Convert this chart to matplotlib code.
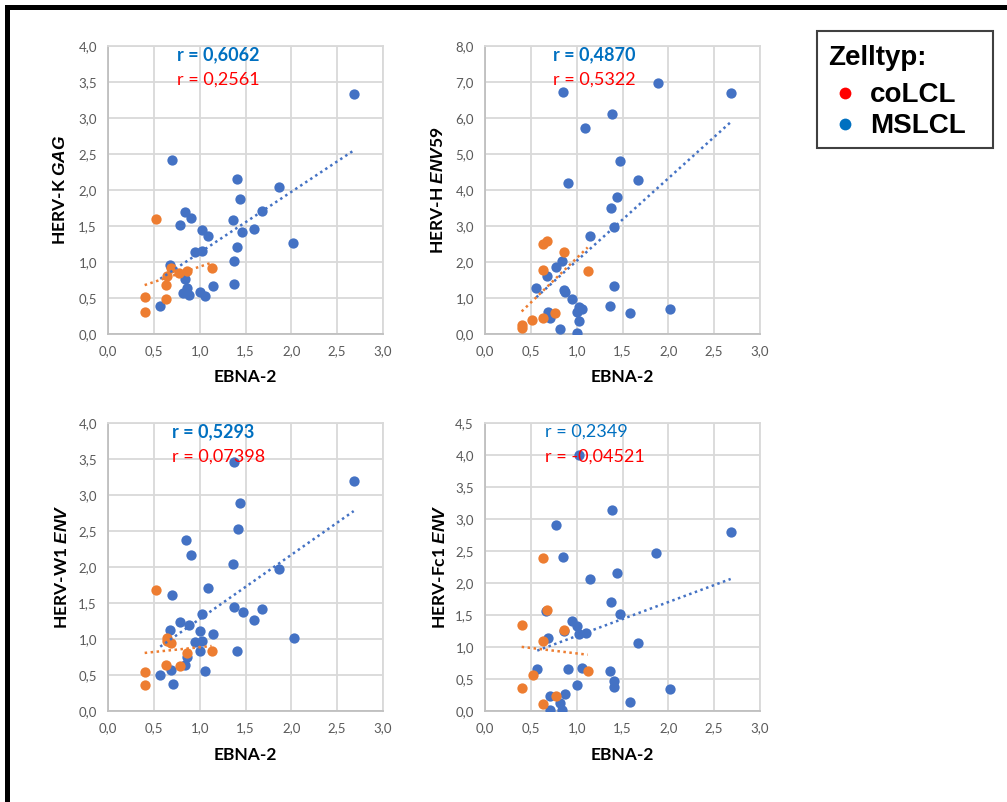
import numpy as np
import matplotlib
matplotlib.use("Agg")
import matplotlib.pyplot as plt
from matplotlib.patches import Rectangle
from matplotlib.lines import Line2D
from matplotlib.ticker import FuncFormatter

plt.rcParams['font.family'] = ['Lato', 'DejaVu Sans']
plt.rcParams['mathtext.fontset'] = 'custom'
plt.rcParams['mathtext.it'] = 'Liberation Sans:italic:bold'
plt.rcParams['mathtext.rm'] = 'Lato:bold'
plt.rcParams['mathtext.bf'] = 'Lato:bold'

# ---------------- data (EBNA-2 on x) ----------------
# HERV-K GAG
gag_ms_x = [2.68, 0.70, 1.41, 1.44, 1.87, 1.68, 0.84, 0.90, 0.78, 1.36, 1.02, 1.09, 1.46, 1.59,
            2.02, 1.41, 0.95, 1.03, 1.38, 0.68, 0.84, 0.86, 0.82, 0.88, 1.00, 1.06, 1.15, 1.38, 0.57]
gag_ms_y = [3.33, 2.41, 2.15, 1.88, 2.04, 1.71, 1.69, 1.61, 1.51, 1.58, 1.45, 1.36, 1.41, 1.46,
            1.26, 1.21, 1.14, 1.15, 1.02, 0.96, 0.76, 0.64, 0.57, 0.54, 0.58, 0.53, 0.66, 0.70, 0.39]
gag_co_x = [0.52, 0.69, 0.64, 0.77, 0.86, 1.13, 0.63, 0.63, 0.40, 0.40]
gag_co_y = [1.60, 0.91, 0.81, 0.85, 0.88, 0.91, 0.68, 0.48, 0.51, 0.30]

# HERV-H ENV59
env59_ms_x = [0.85, 1.89, 2.68, 1.38, 1.09, 1.47, 1.67, 0.90, 1.44, 1.37, 1.41, 1.15, 0.84, 0.77,
              0.68, 0.56, 0.86, 0.87, 0.95, 1.41, 1.36, 1.03, 1.06, 1.00, 0.69, 0.71, 1.02, 1.58,
              2.02, 0.82, 1.00]
env59_ms_y = [6.71, 6.98, 6.69, 6.10, 5.71, 4.81, 4.27, 4.20, 3.81, 3.50, 2.98, 2.72, 2.03, 1.85,
              1.62, 1.28, 1.23, 1.16, 0.97, 1.32, 0.78, 0.76, 0.69, 0.62, 0.60, 0.44, 0.37, 0.57,
              0.69, 0.13, 0.04]
env59_co_x = [0.63, 0.68, 0.86, 0.63, 1.12, 0.76, 0.63, 0.51, 0.40, 0.40]
env59_co_y = [2.50, 2.59, 2.29, 1.78, 1.76, 0.57, 0.44, 0.38, 0.26, 0.16]

# HERV-W1 ENV
w1_ms_x = [2.68, 1.38, 1.44, 1.42, 0.85, 0.90, 1.36, 1.87, 1.09, 0.70, 1.38, 1.68, 1.47, 1.03,
           1.59, 0.78, 0.88, 0.68, 1.00, 1.15, 2.03, 0.95, 1.03, 1.00, 1.41, 0.86, 0.84, 0.69,
           1.06, 0.57, 0.71]
w1_ms_y = [3.19, 3.46, 2.89, 2.53, 2.37, 2.16, 2.04, 1.97, 1.71, 1.61, 1.44, 1.41, 1.37, 1.35,
           1.27, 1.24, 1.19, 1.12, 1.11, 1.07, 1.01, 0.96, 0.97, 0.83, 0.83, 0.75, 0.64, 0.57,
           0.56, 0.50, 0.37]
w1_co_x = [0.52, 0.64, 0.64, 0.69, 0.86, 1.13, 0.63, 0.78, 0.40, 0.40]
w1_co_y = [1.68, 1.01, 0.97, 0.94, 0.81, 0.84, 0.64, 0.63, 0.54, 0.36]

# HERV-Fc1 ENV
fc1_ms_x = [1.03, 1.38, 0.77, 2.68, 0.85, 1.87, 1.44, 1.15, 1.37, 1.47, 0.67, 0.95, 1.00, 1.03,
            1.10, 0.86, 0.69, 1.67, 0.57, 0.90, 1.06, 1.36, 1.41, 1.41, 1.00, 2.02, 0.71, 0.87,
            0.82, 1.58, 0.71, 0.84]
fc1_ms_y = [4.00, 3.14, 2.90, 2.79, 2.41, 2.47, 2.15, 2.07, 1.71, 1.51, 1.56, 1.40, 1.33, 1.21,
            1.22, 1.25, 1.14, 1.06, 0.65, 0.66, 0.67, 0.62, 0.47, 0.37, 0.40, 0.34, 0.23, 0.26,
            0.13, 0.14, 0.01, 0.01]
fc1_co_x = [0.63, 0.68, 0.40, 0.86, 0.63, 1.12, 0.52, 0.40, 0.77, 0.63]
fc1_co_y = [2.39, 1.58, 1.35, 1.27, 1.09, 0.62, 0.56, 0.36, 0.24, 0.11]

panel_ylabels = ["HERV-K $\\mathit{GAG}$", "HERV-H $\\mathit{ENV}$59",
                 "HERV-W1 $\\mathit{ENV}$", "HERV-Fc1 $\\mathit{ENV}$"]
panel_ymax = [4.0, 8.0, 4.0, 4.5]
panel_ystep = [0.5, 1.0, 0.5, 0.5]
r_ms_text = ["r = 0,6062", "r = 0,4870", "r = 0,5293", "r = 0,2349"]
r_co_text = ["r = 0,2561", "r = 0,5322", "r = 0,07398", "r = -0,04521"]
r_ms_bold = [True, True, True, False]
xlabel = "EBNA-2"
legend_title = "Zelltyp:"
legend_labels = ["coLCL", "MSLCL"]

ms_data = [(gag_ms_x, gag_ms_y), (env59_ms_x, env59_ms_y), (w1_ms_x, w1_ms_y), (fc1_ms_x, fc1_ms_y)]
co_data = [(gag_co_x, gag_co_y), (env59_co_x, env59_co_y), (w1_co_x, w1_co_y), (fc1_co_x, fc1_co_y)]

# ---------------- styling ----------------
W, H = 1007, 802
fig = plt.figure(figsize=(W / 100, H / 100), dpi=100)
fig.patch.set_facecolor('white')

BLUE = '#4472C4'
ORANGE = '#ED7D31'
GRID = '#D9D9D9'
TICK = '#595959'

def fx(px):
    return px / W

def fy(py):
    return 1 - py / H

pw, ph = 275, 288
origins = [(108, 46), (485, 46), (108, 423), (485, 423)]  # left, top in pixels
rtext_x = [0.251, 0.247, 0.233, 0.218]
ylabel_x = [-0.175, -0.171, -0.168, -0.165]

fmt = FuncFormatter(lambda v, p: f"{v:.1f}".replace('.', ','))

for i in range(4):
    l, t = origins[i]
    ax = fig.add_axes([fx(l), fy(t + ph), pw / W, ph / H])
    ax.set_xlim(0, 3.0)
    ax.set_ylim(0, panel_ymax[i])
    ax.set_xticks(np.arange(0, 3.01, 0.5))
    ax.set_yticks(np.arange(0, panel_ymax[i] + 0.001, panel_ystep[i]))
    ax.xaxis.set_major_formatter(fmt)
    ax.yaxis.set_major_formatter(fmt)
    ax.grid(True, color=GRID, lw=1.3)
    ax.set_axisbelow(True)
    for s in ax.spines.values():
        s.set_color(GRID)
        s.set_linewidth(1.3)
    ax.spines['left'].set_color('#BFBFBF')
    ax.spines['bottom'].set_color('#BFBFBF')
    ax.tick_params(length=0, labelsize=9.5, labelcolor=TICK)
    ax.tick_params(axis='x', pad=8)
    ax.tick_params(axis='y', pad=8)

    mx, my = ms_data[i]
    cx, cy = co_data[i]
    ax.scatter(mx, my, s=55, color=BLUE, zorder=3, linewidths=0)
    ax.scatter(cx, cy, s=55, color=ORANGE, zorder=4, linewidths=0)

    for (xs, ys, c) in [(mx, my, BLUE), (cx, cy, ORANGE)]:
        xs = np.asarray(xs); ys = np.asarray(ys)
        k, d = np.polyfit(xs, ys, 1)
        xx = np.array([xs.min(), xs.max()])
        ax.plot(xx, k * xx + d, color=c, lw=1.8, ls=(0, (1, 1.4)), zorder=5)

    ax.text(rtext_x[i], 0.969, r_ms_text[i], transform=ax.transAxes, color='#0070C0',
            fontsize=13, fontweight='bold' if r_ms_bold[i] else 'normal', va='center', ha='left', zorder=6)
    ax.text(rtext_x[i], 0.882, r_co_text[i], transform=ax.transAxes, color='#FF0000',
            fontsize=13, va='center', ha='left', zorder=6)

    ax.set_xlabel(xlabel, fontsize=12.5, fontweight='bold', color='black')
    ax.xaxis.label.set_va('center')
    ax.xaxis.set_label_coords(0.5, -0.150 if i < 2 else -0.153)
    ax.set_ylabel(panel_ylabels[i], fontsize=12.5, fontweight='bold', color='black')
    ax.yaxis.label.set_va('center')
    ax.yaxis.set_label_coords(ylabel_x[i], 0.5)

# ---------------- legend box ----------------
fig.patches.append(Rectangle((fx(817), fy(148)), 176 / W, 117 / H, transform=fig.transFigure,
                             facecolor='white', edgecolor='#404040', lw=1.5, zorder=2))
fig.text(fx(828), fy(65), legend_title, fontsize=20, fontweight='bold',
         family='Liberation Sans', va='baseline', ha='left', zorder=4)
leg_colors = ['#FF0000', '#0070C0']
leg_baselines = [102, 133]
leg_dot_y = [93, 124]
for lab, col, bl, dy in zip(legend_labels, leg_colors, leg_baselines, leg_dot_y):
    fig.text(fx(870), fy(bl), lab, fontsize=20, fontweight='bold',
             family='Liberation Sans', va='baseline', ha='left', zorder=4)
    fig.add_artist(Line2D([fx(845)], [fy(dy)], marker='o', markersize=8.5, color=col,
                          linestyle='none', markeredgewidth=0, transform=fig.transFigure,
                          zorder=6))

# ---------------- black frame (top + left) ----------------
fig.patches.append(Rectangle((fx(5), fy(10)), 1 - fx(5), 5 / H, transform=fig.transFigure,
                             facecolor='black', edgecolor='none', zorder=10))
fig.patches.append(Rectangle((fx(5), 0), 5 / W, fy(5), transform=fig.transFigure,
                             facecolor='black', edgecolor='none', zorder=10))

fig.savefig('out.png', dpi=100, facecolor='white')
